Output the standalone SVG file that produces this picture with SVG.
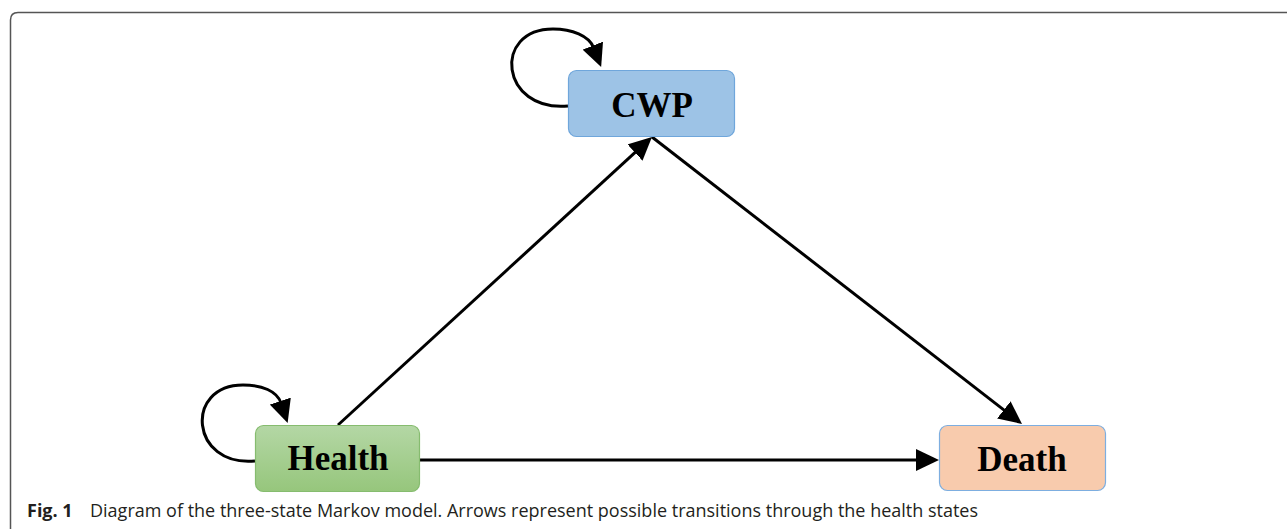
<svg xmlns="http://www.w3.org/2000/svg" width="1287" height="529" viewBox="0 0 1287 529">
<style>
.node-text{font-family:"Liberation Serif","Times New Roman",serif;font-weight:bold;font-size:35px;fill:#000;text-anchor:middle}
.conn{fill:none;stroke:#000;stroke-width:3;marker-end:url(#arr)}
.caption{font-family:"Open Sans","Noto Sans",sans-serif;font-size:18px;fill:#231f20}
</style>
<defs>
<marker id="arr" markerUnits="userSpaceOnUse" markerWidth="24" markerHeight="22" refX="2" refY="11" orient="auto" viewBox="0 0 24 22">
<path d="M0,0 L23,11 L0,22 z" fill="#000"/>
</marker>
<linearGradient id="gHealth" x1="0" y1="0" x2="0" y2="1">
<stop offset="0" stop-color="#B4D7A5"/>
<stop offset="1" stop-color="#96C67C"/>
</linearGradient>
</defs>
<path d="M10.5,529 V20 Q10.5,12.5 18,12.5 H1287" fill="none" stroke="#555" stroke-width="1.5"/>
<g id="connectors">
<path class="conn" d="M338,425 L636.5,151.2"/>
<path class="conn" d="M652,137 L1005.4,411.1"/>
<path class="conn" d="M420,460 L918,460"/>
<path class="conn" d="M568,106 C 500,112 492,29 553,29 C 572,29 589,36 593.5,47.5"/>
<path class="conn" d="M255,461 C 190,467 184,385 243,385 C 262,385 277,391 281,403"/>
</g>
<g id="node-cwp">
<rect x="568.5" y="70.5" width="166" height="66" rx="8" fill="#9DC3E6" stroke="#6FA6DB" stroke-width="1.2"/>
<text class="node-text" x="652" y="117">CWP</text>
</g>
<g id="node-health">
<rect x="255.5" y="425.5" width="164" height="66" rx="8" fill="url(#gHealth)" stroke="#86BC6F" stroke-width="1.2"/>
<text class="node-text" x="338" y="470">Health</text>
</g>
<g id="node-death">
<rect x="939.5" y="425.5" width="166" height="65" rx="8" fill="#F8CBAD" stroke="#7DAEE0" stroke-width="1.2"/>
<text class="node-text" x="1022" y="471">Death</text>
</g>
<text class="caption" y="517"><tspan x="27" font-weight="bold">Fig. 1</tspan><tspan x="90">Diagram of the three-state Markov model. Arrows represent possible transitions through the health states</tspan></text>
</svg>
